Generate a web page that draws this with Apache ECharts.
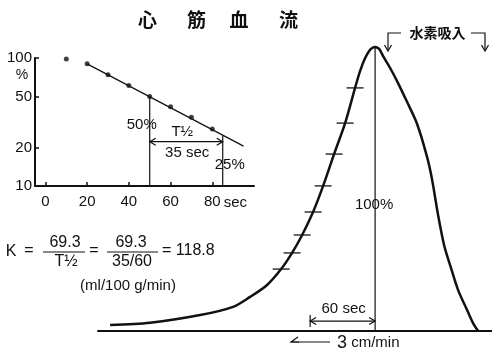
<!DOCTYPE html>
<html><head><meta charset="utf-8">
<script src="https://cdn.jsdelivr.net/npm/echarts@6/dist/echarts.min.js"></script>
<style>html,body{margin:0;padding:0;background:#fff}#c{width:492px;height:354px}</style>
</head><body><div id="c"></div>
<script>
// ---- Inset semilog plot: H2 clearance (% vs sec) ----
const insetTime = [10, 20, 30, 40, 50, 60, 70, 80];
const insetPct  = [98, 90, 74, 61, 50, 41.6, 34.4, 27.9];
const fitTime   = [20, 95];
const fitPct    = [90, 20.5];
const insetXTicks = [0, 20, 40, 60, 80];
const insetYTicks = [10, 20, 50, 100];
const halfTime = [50, 85];      // 50% and 25% points
const halfPct  = [50, 25];
const halfArrowPct = 22.2;
// ---- Main washout curve (sec from peak, % of peak) ----
const curveTime = [-244.8, -207.9, -161.7, -131.2, -115.5, -99.8, -86.8, -76.7, -67.4, -57.3, -48.0, -37.9, -27.7, -18.5, -13.9, -9.2, -4.5, -2, 0, 2, 4, 7.4, 13.9, 21.2, 29.6, 38.8, 48.0, 52.7, 58.2, 63.7, 69.3, 76.7, 85.0, 90.5, 95.2];
const curvePct  = [2.1, 2.9, 5.6, 8.5, 12.0, 16.2, 21.8, 27.5, 33.8, 41.9, 51.1, 62.3, 73.2, 85.6, 91.5, 96.1, 99.1, 99.8, 100, 99.8, 99.2, 96.8, 92.6, 87.3, 80.6, 72.9, 61.3, 53.2, 40.8, 30.3, 23.2, 14.4, 7.4, 2.8, 0];
const markTime  = [-86.8, -76.7, -67.4, -57.3, -48.0, -37.9, -27.7, -18.5];
const markPct   = [21.8, 27.5, 33.8, 41.9, 51.1, 62.3, 73.2, 85.6];
const scaleSec = 60;   // "60 sec" bar
const scaleArrowPct = 3.5;

const L = Math.log10;
const FONT = "'Liberation Sans', Arial, sans-serif";
const CJK = "'Noto Sans CJK JP', sans-serif";
const INK = '#111';

const chart = echarts.init(document.getElementById('c'));
const option = {
  animation: false,
  backgroundColor: '#fff',
  grid: [
    {left: 35, right: 238, top: 58, bottom: 168},
    {left: 98, right: 0, top: 47, bottom: 23}
  ],
  xAxis: [
    {gridIndex: 0, type: 'value', min: -5, max: 100,
     axisLine: {lineStyle: {color: INK, width: 2}},
     axisTick: {inside: true, length: 4, customValues: insetXTicks, lineStyle: {color: INK, width: 1.5}},
     axisLabel: {customValues: insetXTicks, color: INK, fontSize: 15, fontFamily: FONT, margin: 8},
     splitLine: {show: false}},
    {gridIndex: 1, type: 'value', min: -256, max: 108,
     axisLine: {lineStyle: {color: INK, width: 2}},
     axisTick: {show: false}, axisLabel: {show: false}, splitLine: {show: false}}
  ],
  yAxis: [
    {gridIndex: 0, type: 'value', min: 1, max: 2,
     axisLine: {show: true, onZero: false, lineStyle: {color: INK, width: 2}},
     axisTick: {show: true, inside: true, length: 4, customValues: insetYTicks.map(L), lineStyle: {color: INK, width: 1.5}},
     axisLabel: {customValues: insetYTicks.map(L), color: INK, fontSize: 15, fontFamily: FONT, margin: 3,
                 formatter: v => String(Math.round(Math.pow(10, v)))},
     splitLine: {show: false}},
    {gridIndex: 1, type: 'value', min: 0, max: 100, show: false}
  ],
  series: [
    {type: 'scatter', xAxisIndex: 0, yAxisIndex: 0, symbolSize: 5, itemStyle: {color: INK},
     data: insetTime.map((t, i) => [t, L(insetPct[i])])},
    {type: 'line', xAxisIndex: 0, yAxisIndex: 0, showSymbol: false, lineStyle: {color: INK, width: 1.2},
     data: fitTime.map((t, i) => [t, L(fitPct[i])])},
    {type: 'line', xAxisIndex: 0, yAxisIndex: 0, showSymbol: false, lineStyle: {color: INK, width: 1.2},
     data: [[halfTime[0], L(halfPct[0])], [halfTime[0], 1]]},
    {type: 'line', xAxisIndex: 0, yAxisIndex: 0, showSymbol: false, lineStyle: {color: INK, width: 1.2},
     data: [[halfTime[1], L(halfPct[1])], [halfTime[1], 1]]},
    {type: 'line', xAxisIndex: 1, yAxisIndex: 1, showSymbol: false, smooth: 0.3, clip: false,
     lineStyle: {color: INK, width: 2.5},
     data: curveTime.map((t, i) => [t, curvePct[i]])},
    {type: 'scatter', xAxisIndex: 1, yAxisIndex: 1, symbol: 'rect', symbolSize: [17, 1.6],
     itemStyle: {color: INK}, data: markTime.map((t, i) => [t, markPct[i]])},
    {type: 'line', xAxisIndex: 1, yAxisIndex: 1, showSymbol: false, lineStyle: {color: INK, width: 1.2},
     data: [[0, 0], [0, 100]]}
  ]
};
chart.setOption(option);

const p0 = (x, v) => chart.convertToPixel({gridIndex: 0}, [x, L(v)]);
const p1 = (t, y) => chart.convertToPixel({gridIndex: 1}, [t, y]);
const g = [];
function txt(text, x, y, size, opts) {
  opts = opts || {};
  g.push({type: 'text', z: 100, style: Object.assign({
    text, x, y, fill: INK,
    font: (opts.weight || 'normal') + ' ' + size + 'px ' + (opts.family || FONT),
    textAlign: opts.align || 'center', align: opts.align || 'center',
    textVerticalAlign: 'middle', verticalAlign: 'middle'
  }, opts.style || {})});
}
function line(pts, w) {
  g.push({type: 'polyline', z: 100, shape: {points: pts}, style: {stroke: INK, lineWidth: w || 1.2, fill: null}});
}
function headH(x, y, dir) { line([[x - dir * 6, y - 3.5], [x, y], [x - dir * 6, y + 3.5]], 1.2); }
function headDown(x, y) { line([[x - 3.5, y - 6], [x, y], [x + 3.5, y - 6]], 1.2); }

// Title
[['心', 147.5], ['筋', 196.5], ['血', 239], ['流', 288.5]].forEach(c => txt(c[0], c[1], 20, 19, {weight: 'bold', family: CJK}));

// Inset annotations
txt('%', 22, 75, 14);
const xs = chart.convertToPixel({gridIndex: 0}, [92, 1]);
txt('sec', xs[0] - 2, xs[1] + 17, 15);
const a1 = p0(halfTime[0], halfArrowPct), a2 = p0(halfTime[1], halfArrowPct);
line([a1, a2]); headH(a1[0], a1[1], -1); headH(a2[0], a2[1], 1);
txt('T½', (a1[0] + a2[0]) / 2 - 4, a1[1] - 10, 15);
txt('35 sec', (a1[0] + a2[0]) / 2 + 1, a1[1] + 11, 15);
txt('50%', a1[0] - 8, 125, 15);
txt('25%', a2[0] + 7, 165, 15);

// Formula
txt('K', 11, 252, 16);
txt('=', 29, 251, 16);
txt('69.3', 65, 243, 16); line([[43, 252], [85, 252]], 1.2); txt('T½', 66, 262, 16);
txt('=', 94, 251, 16);
txt('69.3', 131, 243, 16); line([[107, 252], [158, 252]], 1.2); txt('35/60', 132, 262, 16);
txt('= 118.8', 162, 251, 16, {align: 'left'});
txt('(ml/100 g/min)', 128, 286, 15);

// Main curve annotations
const pk = p1(0, 44.4);
txt('100%', pk[0] - 1, pk[1], 15);
const s1 = p1(-scaleSec, scaleArrowPct), s2 = p1(0, scaleArrowPct);
line([s1, s2]); headH(s1[0], s1[1], -1); headH(s2[0], s2[1], 1);
line([[s1[0], s1[1] - 6], [s1[0], s1[1] + 6]], 1.2);
txt('60 sec', (s1[0] + s2[0]) / 2 + 1, s1[1] - 12, 15);

// 3 cm/min
line([[291, 342], [330, 342]], 1.2);
line([[298, 337], [291, 342], [299, 342]], 1.2);
g.push({type: 'text', z: 100, style: {text: '{a|3}{b| cm/min}', x: 337, y: 343, textAlign: 'left', align: 'left', textVerticalAlign: 'middle', verticalAlign: 'middle',
  rich: {a: {fontSize: 18, fontFamily: FONT, fill: INK, color: INK}, b: {fontSize: 15, fontFamily: FONT, fill: INK, color: INK}}}});

// 水素吸入 bracket
line([[388, 50], [388, 33], [401, 33]], 1.2); headDown(388, 51);
line([[471, 33], [485, 33], [485, 50]], 1.2); headDown(485, 51);
txt('水素吸入', 437.5, 33, 14, {weight: 'bold', family: CJK});

chart.setOption({graphic: g});
</script></body></html>
